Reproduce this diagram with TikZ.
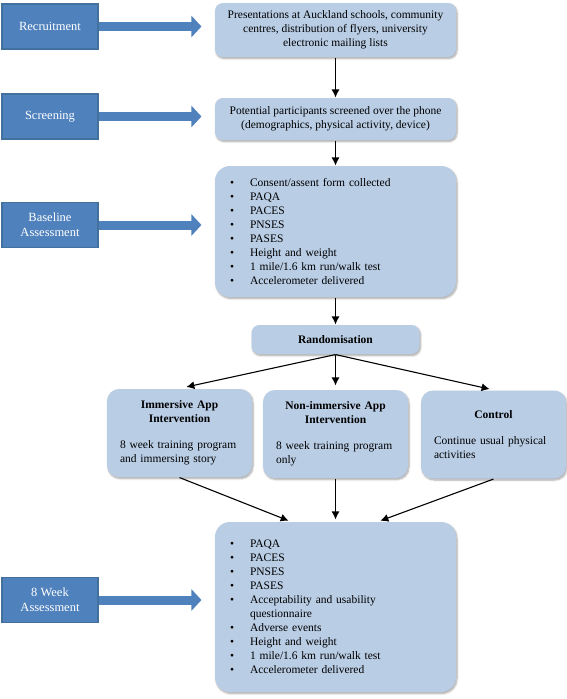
\documentclass[tikz,border=0pt]{standalone}
\usepackage{fontspec}
\setmainfont{Liberation Serif}
\usetikzlibrary{positioning,calc}
\usetikzlibrary{arrows.meta,shadows.blur}
\definecolor{stageblue}{HTML}{4F81BD}
\definecolor{stageedge}{HTML}{41719C}
\definecolor{boxblue}{HTML}{B9CDE5}
\newcommand{\blt}[0]{\makebox[20pt][l]{\textbullet}}

\begin{document}
\begin{tikzpicture}[
x=1pt, y=-1pt,
stage/.style={
  draw=stageedge,
  fill=stageblue,
  text=white,
  font=\fontsize{12.5}{15}\selectfont,
  align=center,
  minimum width=96pt,
  minimum height=45pt,
  inner sep=0pt
  },
info/.style={
  fill=boxblue,
  rounded corners=8pt,
  blur shadow={shadow xshift=1pt, shadow yshift=-1.5pt, shadow blur steps=6, shadow opacity=35},
  font=\fontsize{11.5}{14}\selectfont,
  inner sep=0pt,
  minimum width=241pt
  },
group/.style={
  info,
  rounded corners=12pt,
  minimum width=145pt,
  minimum height=88pt,
  text width=119pt,
  align=left
  },
blockarrow/.style={
  stageblue,
  line width=9pt,
  -{Triangle[length=10pt,width=21pt]},
  shorten >=13pt
  },
>={Latex[length=8pt,width=8pt]},
line width=1.1pt
]
\useasboundingbox (0,0) rectangle (567,699);

\node[stage] (rec) at (50,26.5) {Recruitment};
\node[stage] (scr) at (50,116.5) {Screening};
\node[stage] (bas) at (50,225) {Baseline\\Assessment};
\node[stage] (wk) at (50,600) {8 Week\\Assessment};

\node[info, align=center, minimum height=54pt] (pres) at (335.5,30) {Presentations at Auckland schools, community\\centres, distribution of flyers, university\\electronic mailing lists};
\node[info, align=center, minimum height=42pt] (phone) at (335.5,119) {Potential participants screened over the phone\\(demographics, physical activity, device)};
\node[info, rounded corners=15pt, align=left, text width=211pt, inner xsep=15pt, minimum height=131pt] (base) at (335.5,231.5) {\blt Consent/assent form collected\\ \blt PAQA\\ \blt PACES\\ \blt PNSES\\ \blt PASES\\ \blt Height and weight\\ \blt 1 mile/1.6 km run/walk test\\ \blt Accelerometer delivered};
\node[info, minimum width=168pt, minimum height=29pt, font=\fontsize{11.5}{14}\selectfont\bfseries] (rand) at (335.5,339.5) {Randomisation};

\node[group] (imm) at (179.5,433) {{\centering\bfseries Immersive App\\Intervention\par}\vspace{12pt}\noindent 8 week training program\\and immersing story};
\node[group] (nonimm) at (335.5,434) {{\centering\bfseries Non-immersive App\\Intervention\par}\vspace{12pt}\noindent 8 week training program\\only};
\node[group] (ctrl) at (493.5,434.5) {{\centering\bfseries Control\par}\vspace{12pt}\noindent Continue usual physical\\activities};

\node[info, rounded corners=15pt, align=left, text width=211pt, inner xsep=15pt, minimum height=170pt] (week) at (335.5,607) {\blt PAQA\\ \blt PACES\\ \blt PNSES\\ \blt PASES\\ \blt Acceptability and usability\\ \hspace*{20pt}questionnaire\\ \blt Adverse events\\ \blt Height and weight\\ \blt 1 mile/1.6 km run/walk test\\ \blt Accelerometer delivered};

\draw[blockarrow] (rec.east) -- (rec.east -| pres.west);
\draw[blockarrow] (scr.east) -- (scr.east -| phone.west);
\draw[blockarrow] (bas.east) -- (bas.east -| base.west);
\draw[blockarrow] (wk.east) -- (wk.east -| week.west);

\draw[->] (pres) -- (phone);
\draw[->] (phone) -- (base);
\draw[->] (base) -- (rand);
\draw[->, shorten >=7pt] (rand.south) -- (imm.north);
\draw[->, shorten >=4pt] (rand.south) -- (nonimm.north);
\draw[->, shorten >=4pt] (rand.south) -- (ctrl.north);

\coordinate (inl) at ([xshift=-45pt]week.north);
\coordinate (inr) at ([xshift=43pt]week.north);
\draw[->, shorten >=2pt] (imm.south) -- (inl);
\draw[->, shorten >=2pt] (nonimm.south) -- (week.north);
\draw[->, shorten >=2pt] (ctrl.south) -- (inr);
\end{tikzpicture}
\end{document}
